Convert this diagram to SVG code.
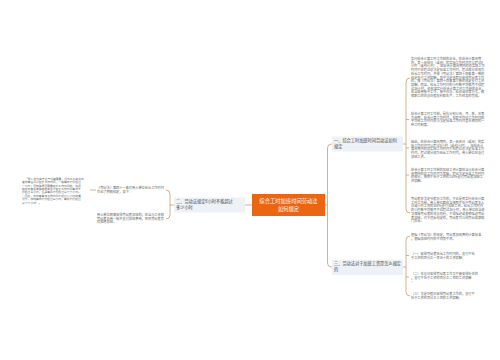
<svg xmlns="http://www.w3.org/2000/svg" width="500" height="360" viewBox="0 0 500 360">
<style>
.bg{fill:#ffffff}
.conn{fill:none;stroke:#cf9c6c;stroke-width:0.8}
.center{fill:#ec6512}
.ctext{font-family:"Noto Sans CJK SC","Noto Sans",sans-serif;font-size:5.3px;fill:#ffffff;text-anchor:middle}
.branch{fill:#eef1f6}
.btext{font-family:"Noto Sans CJK SC","Noto Sans",sans-serif;font-size:4.2px;fill:#444444}
.leaf{font-family:"Noto Sans CJK SC","Noto Sans",sans-serif;font-size:3.2px;fill:#666666}
.leaf2{font-family:"Noto Sans CJK SC","Noto Sans",sans-serif;font-size:2.8px;fill:#666666}
</style>
<rect class="bg" x="0" y="0" width="500" height="360"/>
<g id="connectors">
<path class="conn" d="M325,205 H327.5 V148 Q327.5,144 331.5,144 H332"/>
<path class="conn" d="M327.5,205 V263 Q327.5,267 331.5,267 H332"/>
<path class="conn" d="M252,205 H245"/>
<path class="conn" d="M403,144 H406 M410,78 Q406,78 406,82 V209 Q406,213 410,213 M406,119.5 H409 M406,148 H409 M406,175 H409"/>
<path class="conn" d="M403,267 H406 M410,236 Q406,236 406,240 V292 Q406,296 410,296 M406,255.5 H409 M406,277 H409"/>
<path class="conn" d="M174,205 H170 M166,190 Q170,190 170,194 V215 Q170,219 166,219"/>
<path class="conn" d="M90,190 H96"/>
</g>
<g id="center">
<rect class="center" x="252" y="194" width="73" height="22"/>
<text class="ctext" x="288.5" y="203">综合工时加班时间劳动法</text>
<text class="ctext" x="288.5" y="211">如何规定</text>
</g>
<g id="branch1">
<rect class="branch" x="332" y="136.5" width="71" height="15"/>
<text class="btext" x="334" y="141.8">一、综合工时加班时间劳动法如何</text>
<text class="btext" x="334" y="147.8">规定</text>
</g>
<g id="branch2">
<rect class="branch" x="174" y="197.5" width="71" height="15"/>
<text class="btext" x="176" y="203.3">二、劳动法规定8小时不能超过</text>
<text class="btext" x="176" y="209.1">多少小时</text>
</g>
<g id="branch3">
<rect class="branch" x="332" y="259.5" width="71" height="15.5"/>
<text class="btext" x="334" y="265.1">三、劳动法对于加班工资是怎么规定</text>
<text class="btext" x="334" y="271.3">的</text>
</g>
<g id="b1-leaf1" class="leaf">
<text x="411" y="60">实行综合计算工时工作制的企业，在综合计算周期</text>
<text x="411" y="63.7">内，某一具体日（或周）的实际工作时间可以超过8</text>
<text x="411" y="67.4">小时（或40小时），但综合计算周期内的总实际工作</text>
<text x="411" y="71.1">时间不应超过总法定标准工作时间，超过部分应视为</text>
<text x="411" y="74.8">延长工作时间，并按《劳动法》第四十四条第一款的</text>
<text x="411" y="78.5">规定支付工资报酬，其中法定休假日安排劳动者工作</text>
<text x="411" y="82.2">的，按《劳动法》第四十四条第三款的规定支付工资</text>
<text x="411" y="85.9">报酬。而且，延长工作时间的小时数平均每月不得超</text>
<text x="411" y="89.6">过36小时。经批准实行综合计算工时工作制的企业，</text>
<text x="411" y="93.3">应当采用集中工作、集中休息、轮休调休等方式，确</text>
<text x="411" y="97">保职工的休息休假权利和生产、工作任务的完成。</text>
</g>
<g id="b1-leaf2" class="leaf">
<text x="411" y="115">综合计算工时工作制，是指分别以周、月、季、年等</text>
<text x="411" y="118.7">为周期，综合计算工作时间，但其平均日工作时间和</text>
<text x="411" y="122.4">平均周工作时间应与法定标准工作时间基本相同的一</text>
<text x="411" y="126.1">种工时制度。</text>
</g>
<g id="b1-leaf3" class="leaf">
<text x="411" y="143">因此，在综合计算周期内，某一具体日（或周）的实</text>
<text x="411" y="146.7">际工作时间可以超过8小时（或40小时），但综合计</text>
<text x="411" y="150.4">算周期内的总实际工作时间不应超过总法定标准工作</text>
<text x="411" y="154.1">时间，超过部分视为延长工作时间，用人单位应支付</text>
<text x="411" y="157.8">加班工资。</text>
</g>
<g id="b1-leaf4" class="leaf">
<text x="411" y="171">综合计算工时工作制的加班工资计算应当以综合计算</text>
<text x="411" y="174.7">周期内的总工作时间为基础，超出法定标准工作时间</text>
<text x="411" y="178.4">的部分，按照不低于工资的150%支付劳动者加班工</text>
<text x="411" y="182.1">资报酬。</text>
</g>
<g id="b1-leaf5" class="leaf">
<text x="411" y="200">劳动者在法定节假日工作的，不论是否实行综合计算</text>
<text x="411" y="203.7">工时工作制，用人单位都应当按照不低于劳动者本人</text>
<text x="411" y="207.4">日或小时工资的300%支付加班工资。延长工作时间</text>
<text x="411" y="211.1">的小时数平均每月不得超过36小时，用人单位应当依</text>
<text x="411" y="214.8">法保障劳动者的休息权利，不得强迫或变相强迫劳动</text>
<text x="411" y="218.5">者加班，对于违反规定的，劳动者可以向劳动监察部</text>
<text x="411" y="222.2">门投诉。</text>
</g>
<g id="b3-leaf1" class="leaf">
<text x="411" y="236">根据《劳动法》的规定，劳动者加班费的计算标准</text>
<text x="411" y="239.7">，根据加班时间的不同而不同。</text>
</g>
<g id="b3-leaf2" class="leaf">
<text x="411" y="255">（一）安排劳动者延长工作时间的，支付不低</text>
<text x="411" y="258.7">于工资的百分之一百五十的工资报酬；</text>
</g>
<g id="b3-leaf3" class="leaf">
<text x="411" y="275">（二）休息日安排劳动者工作又不能安排补休的</text>
<text x="411" y="278.7">，支付不低于工资的百分之二百的工资报酬</text>
<text x="411" y="282.4">；</text>
</g>
<g id="b3-leaf4" class="leaf">
<text x="411" y="295">（三）法定休假日安排劳动者工作的，支付不</text>
<text x="411" y="298.7">低于工资的百分之三百的工资报酬。</text>
</g>
<g id="b2-leaf1" class="leaf">
<text x="97" y="189">《劳动法》第四十一条对用人单位延长工作时间</text>
<text x="97" y="192.7">作出了明确规定，如下：</text>
</g>
<g id="b2-leaf1-1" class="leaf2">
<text x="25" y="179.8">“用人单位由于生产经营需要，经与工会和劳动</text>
<text x="22" y="183.2">者协商后可以延长工作时间，一般每日不得超过</text>
<text x="22" y="186.6">一小时；因特殊原因需要延长工作时间的，在保</text>
<text x="22" y="190">障劳动者身体健康的条件下延长工作时间每日不</text>
<text x="22" y="193.4">得超过三小时，但是每月不得超过三十六小时。</text>
<text x="22" y="196.8">”因此，劳动者每日工作时间不超过八小时的情</text>
<text x="22" y="200.2">况下，加班每日不得超过三小时，每月不得超过</text>
<text x="22" y="203.6">三十六小时”。</text>
</g>
<g id="b2-leaf2" class="leaf">
<text x="97" y="216">用人单位确需安排劳动者加班的，应当与工会和</text>
<text x="97" y="219.7">劳动者协商一致并支付加班费用，否则劳动者有</text>
<text x="97" y="223.4">权拒绝加班。</text>
</g>
</svg>
